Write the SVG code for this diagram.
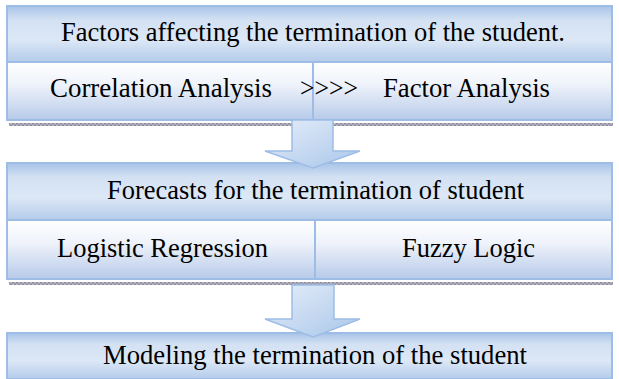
<svg xmlns="http://www.w3.org/2000/svg" width="619" height="379" viewBox="0 0 619 379">
<defs>
<linearGradient id="hdr" x1="0" y1="0" x2="0" y2="1">
<stop offset="0" stop-color="#a8c4e8"/>
<stop offset="0.25" stop-color="#d3e1f3"/>
<stop offset="0.6" stop-color="#dde8f6"/>
<stop offset="1" stop-color="#b3cbea"/>
</linearGradient>
<linearGradient id="row" x1="0" y1="0" x2="0" y2="1">
<stop offset="0" stop-color="#ffffff"/>
<stop offset="0.4" stop-color="#eef2fa"/>
<stop offset="1" stop-color="#b7cae9"/>
</linearGradient>
<linearGradient id="arr" x1="0" y1="0" x2="1" y2="1">
<stop offset="0" stop-color="#e6eef9"/>
<stop offset="1" stop-color="#a9c6ea"/>
</linearGradient>
<pattern id="dots" width="4" height="3" patternUnits="userSpaceOnUse">
<rect width="4" height="3" fill="#b8b8c4"/>
<rect width="2" height="1.5" fill="#8c8c9c"/>
<rect x="2" y="1.5" width="2" height="1.5" fill="#8c8c9c"/>
</pattern>
</defs>
<style>
.hdr{fill:url(#hdr);stroke:#9dbde6;stroke-width:2}
.row{fill:url(#row);stroke:#9dbde6;stroke-width:2}
.arrow{fill:url(#arr);stroke:#9dbde6;stroke-width:1.5}
.shadow{fill:url(#dots)}
text{font-family:"Liberation Serif","Times New Roman",serif;font-size:26.5px;fill:#000}
</style>
<g id="shadows">
<rect class="shadow" x="9" y="123" width="604" height="3"/>
<rect class="shadow" x="9" y="282" width="604" height="3"/>
</g>
<g id="block1">
<rect class="row" x="7" y="62" width="306" height="58"/>
<rect class="row" x="313" y="62" width="299" height="58"/>
<rect class="hdr" x="7" y="6" width="605" height="56"/>
<text x="61" y="41" textLength="504" lengthAdjust="spacingAndGlyphs">Factors affecting the termination of the student.</text>
<text x="50" y="97" textLength="222" lengthAdjust="spacingAndGlyphs">Correlation Analysis</text>
<text x="300" y="97" textLength="58" lengthAdjust="spacingAndGlyphs">&gt;&gt;&gt;&gt;</text>
<text x="383" y="97" textLength="167" lengthAdjust="spacingAndGlyphs">Factor Analysis</text>
</g>
<g id="block2">
<rect class="row" x="7" y="220" width="308" height="59"/>
<rect class="row" x="315" y="220" width="297" height="59"/>
<rect class="hdr" x="7" y="163" width="605" height="57"/>
<text x="107" y="199" textLength="417" lengthAdjust="spacingAndGlyphs">Forecasts for the termination of student</text>
<text x="57" y="257" textLength="211" lengthAdjust="spacingAndGlyphs">Logistic Regression</text>
<text x="402" y="257" textLength="133" lengthAdjust="spacingAndGlyphs">Fuzzy Logic</text>
</g>
<g id="block3">
<rect class="hdr" x="7" y="333" width="605" height="46"/>
<text x="103" y="364" textLength="424" lengthAdjust="spacingAndGlyphs">Modeling the termination of the student</text>
</g>
<g id="connectors">
<path class="arrow" d="M292,120 L333,120 L333,151 L360,151 L313,168 L265,151 L292,151 Z"/>
<path class="arrow" d="M292,285 L334,285 L334,319 L360,319 L313,337 L265,319 L292,319 Z"/>
</g>
</svg>
